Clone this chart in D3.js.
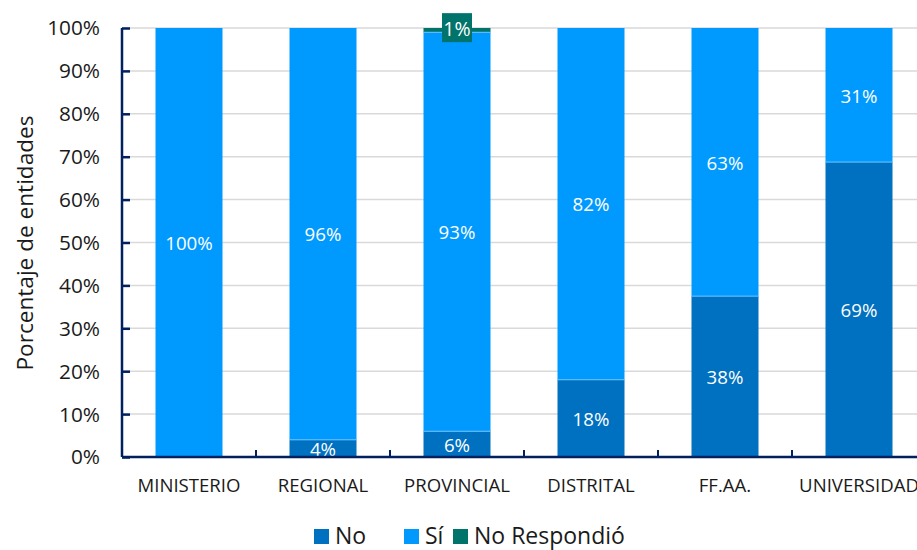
<!DOCTYPE html>
<html><head><meta charset="utf-8">
<script src="https://cdn.jsdelivr.net/npm/d3@7"></script>
<style>
body{margin:0;background:#fff;}
svg text{font-family:"Open Sans",sans-serif;}
</style></head>
<body><svg id="c" width="917" height="550"></svg>
<script>
const categories = ["MINISTERIO","REGIONAL","PROVINCIAL","DISTRITAL","FF.AA.","UNIVERSIDAD"];
const seriesNames = ["No","Sí","No Respondió"];
const noValues = [0, 4, 6, 18, 37.5, 68.75];
const siValues = [100, 96, 93, 82, 62.5, 31.25];
const nrValues = [0, 0, 1, 0, 0, 0];
const yTicks = [0,10,20,30,40,50,60,70,80,90,100];
const colors = ["#0070C0","#009AFF","#00736B"];

(function(){
const svg = d3.select("#c");
const pL = 122, pR = 926, pT = 28, pB = 457;
const x = d3.scaleBand().domain(categories).range([pL, pR]).paddingInner(0.5).paddingOuter(0.25);
const y = d3.scaleLinear().domain([0,100]).range([pB, pT]);

svg.append("g").selectAll("line").data(yTicks.filter(d=>d>0)).join("line")
  .attr("x1", pL).attr("x2", 917).attr("y1", d=>y(d)).attr("y2", d=>y(d))
  .attr("stroke","#d9d9d9").attr("stroke-width",1.5);

const rows = categories.map((c,i)=>({cat:c, "No":noValues[i], "Sí":siValues[i], "No Respondió":nrValues[i]}));
const stack = d3.stack().keys(seriesNames)(rows);

const g = svg.append("g");
stack.forEach((s,si)=>{
  g.selectAll(null).data(s.filter(d=>d[1]-d[0]>0)).join("rect")
    .attr("x", d=>x(d.data.cat)).attr("width", x.bandwidth())
    .attr("y", d=>y(d[1])).attr("height", d=>y(d[0])-y(d[1]))
    .attr("fill", colors[si]);
});
stack.forEach((s,si)=>{
  if(si===0) return;
  g.selectAll(null).data(s.filter(d=>d[1]-d[0]>0 && d[0]>0)).join("line")
    .attr("x1", d=>x(d.data.cat)).attr("x2", d=>x(d.data.cat)+x.bandwidth())
    .attr("y1", d=>y(d[0])).attr("y2", d=>y(d[0]))
    .attr("stroke","#6cc0ff").attr("stroke-width",1);
});

stack.forEach((s,si)=>{
  s.filter(d=>d[1]-d[0]>0).forEach(d=>{
    const cx = x(d.data.cat)+x.bandwidth()/2;
    const cy = (y(d[0])+y(d[1]))/2;
    const txt = Math.round(d[1]-d[0])+"%";
    if(si===2){
      g.append("rect").attr("x",cx-15).attr("y",cy-17).attr("width",30).attr("height",29).attr("fill",colors[2]);
      g.append("text").attr("x",cx).attr("y",cy-2).attr("dy","0.4em")
        .attr("text-anchor","middle").attr("fill","#fff").attr("font-size",19.5).text(txt);
      return;
    }
    g.append("text").attr("x",cx).attr("y",cy).attr("dy","0.4em")
      .attr("text-anchor","middle").attr("fill","#fff").attr("font-size",18.7).text(txt);
  });
});

const axisColor = "#002060";
const yAxis = svg.append("g").attr("transform",`translate(${pL},0)`)
  .call(d3.axisRight(y).tickValues(yTicks).tickSize(8).tickFormat(""));
yAxis.select(".domain").attr("stroke",axisColor).attr("stroke-width",2.5).attr("d",`M0,${pT}V${pB}`);
yAxis.selectAll(".tick line").attr("stroke",axisColor).attr("stroke-width",2.5);
svg.append("g").selectAll("text").data(yTicks).join("text")
  .attr("x",100).attr("y",d=>y(d)).attr("dy","0.36em").attr("text-anchor","end")
  .attr("font-size",20.8).attr("fill","#1a1a1a").text(d=>d+"%");

svg.append("line").attr("x1",pL).attr("x2",917).attr("y1",pB).attr("y2",pB)
  .attr("stroke",axisColor).attr("stroke-width",2.5);
const bounds = categories.slice(1).map(c=>x(c)-x.step()*x.paddingInner()/2);
svg.append("g").selectAll("line").data(bounds).join("line")
  .attr("x1",d=>d).attr("x2",d=>d).attr("y1",pB).attr("y2",pB-7)
  .attr("stroke",axisColor).attr("stroke-width",2);
svg.append("g").selectAll("text").data(categories).join("text")
  .attr("x",d=>x(d)+x.bandwidth()/2).attr("y",492).attr("text-anchor","middle")
  .attr("font-size",18.6).attr("fill","#1a1a1a").text(d=>d);

svg.append("text").attr("transform","translate(33,243) rotate(-90)").attr("text-anchor","middle")
  .attr("font-size",22.6).attr("fill","#1a1a1a").text("Porcentaje de entidades");

const legX = [314, 404, 453];
const lg = svg.append("g");
seriesNames.forEach((n,i)=>{
  lg.append("rect").attr("x",legX[i]).attr("y",529).attr("width",15).attr("height",15).attr("fill",colors[i]);
  lg.append("text").attr("x",legX[i]+21).attr("y",544).attr("font-size",23).attr("fill","#1a1a1a").text(n);
});
})();
</script></body></html>
